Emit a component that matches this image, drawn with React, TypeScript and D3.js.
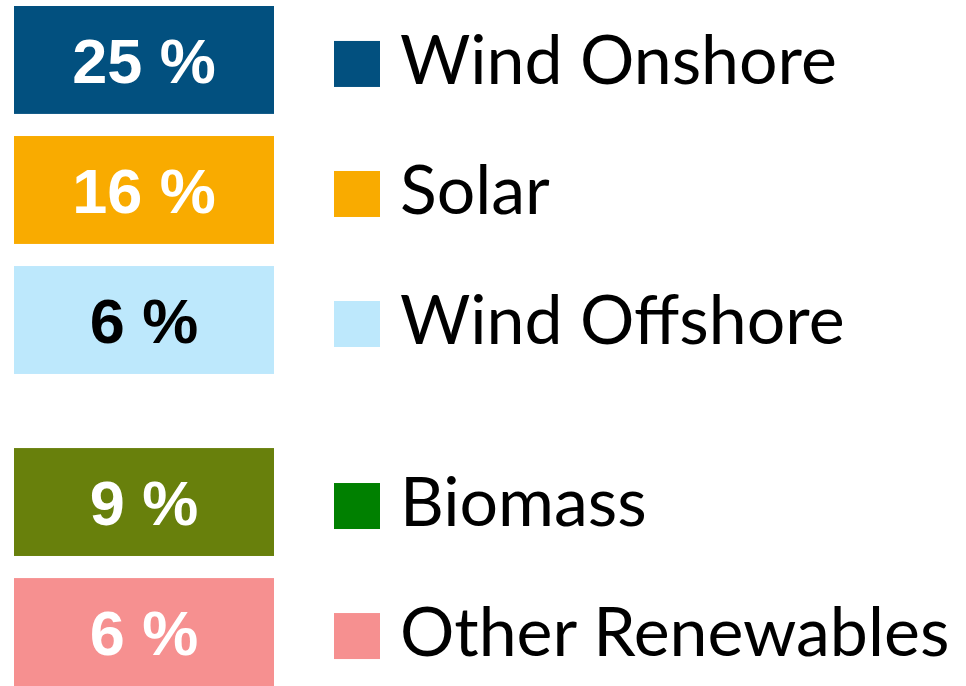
import React, { useEffect, useRef } from 'react';
import * as d3 from 'd3';

// Shares of renewables
const categories = ['Wind Onshore', 'Solar', 'Wind Offshore', 'Biomass', 'Other Renewables'];
const shares = [25, 16, 6, 9, 6];
const groups = [0, 0, 0, 1, 1];
const boxColors = ['#02507f', '#f9ab00', '#bde8fc', '#68800c', '#f69090'];
const legendColors = ['#02507f', '#f9ab00', '#bde8fc', '#008000', '#f69090'];
const labelColors = ['#ffffff', '#ffffff', '#000000', '#ffffff', '#ffffff'];

const width = 966;
const height = 686;

const App = () => {
    const svgRef = useRef<SVGSVGElement>(null);

    useEffect(() => {
        const svg = d3.select(svgRef.current);
        svg.selectAll('*').remove();

        const rows = categories.map((c, i) => ({
            name: c,
            value: shares[i],
            group: groups[i],
            box: boxColors[i],
            legend: legendColors[i],
            label: labelColors[i],
        }));

        // row slots, with a gap between the two groups
        const groupGap = 52;
        const yScale = d3.scaleBand<string>()
            .domain(categories)
            .range([6, height - groupGap])
            .paddingInner(0.17)
            .paddingOuter(0);
        const y = (d: any) => (yScale(d.name) as number) + d.group * groupGap;
        const bh = yScale.bandwidth();

        const boxX = 14;
        const boxW = 260;
        const legendX = 334;
        const legendSize = 46;
        const textX = 400;

        const g = svg.append('g');

        const row = g.selectAll('.row')
            .data(rows)
            .enter()
            .append('g')
            .attr('class', 'row');

        row.append('rect')
            .attr('x', boxX)
            .attr('y', d => y(d))
            .attr('width', boxW)
            .attr('height', bh)
            .attr('fill', d => d.box);

        row.append('text')
            .attr('x', boxX + boxW / 2)
            .attr('y', d => y(d) + bh / 2 + 23)
            .attr('text-anchor', 'middle')
            .style('font-family', '"Liberation Sans", Arial, sans-serif')
            .style('font-weight', 'bold')
            .style('font-size', '63px')
            .attr('fill', d => d.label)
            .text(d => `${d.value} %`);

        row.append('rect')
            .attr('x', legendX)
            .attr('y', d => y(d) + bh / 2 - legendSize / 2 + 4)
            .attr('width', legendSize)
            .attr('height', legendSize)
            .attr('fill', d => d.legend);

        row.append('text')
            .attr('x', textX)
            .attr('y', d => y(d) + bh / 2 + 24)
            .style('font-family', 'Lato, "Open Sans", sans-serif')
            .style('font-size', '68px')
            .attr('fill', '#000')
            .text(d => d.name);
    }, []);

    return (
        <svg
            ref={svgRef}
            width={width}
            height={height}
            style={{ position: 'absolute', left: 0, top: 0, background: '#fff' }}
        ></svg>
    );
};

export default App;
